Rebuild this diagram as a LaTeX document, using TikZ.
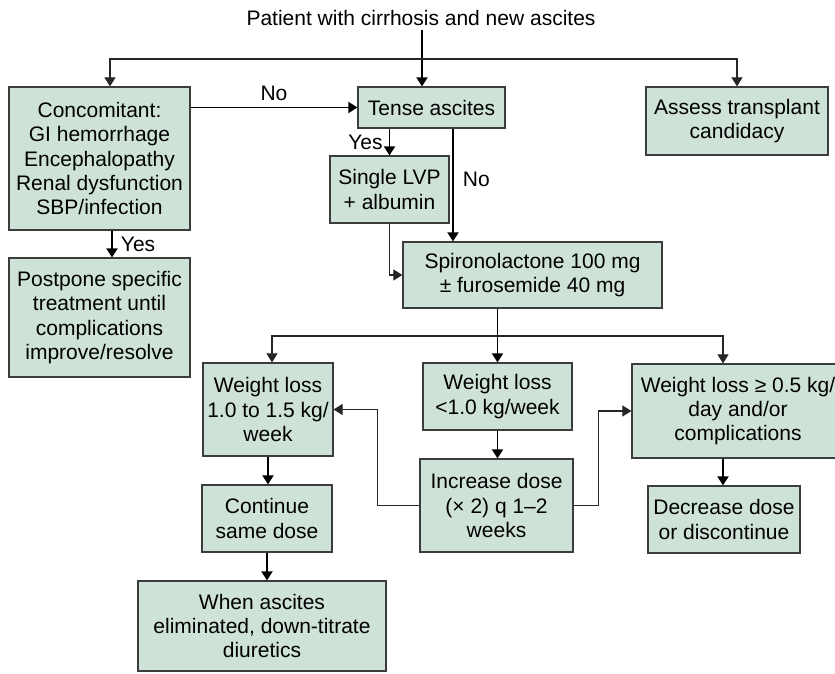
\documentclass[tikz,border=0pt]{standalone}
\usepackage{fontspec}
\setmainfont{Liberation Sans}
\usetikzlibrary{arrows.meta}
\definecolor{boxfill}{RGB}{207,226,215}
\definecolor{boxline}{RGB}{60,60,60}
\tikzset{
  box/.style={draw=boxline, line width=1.2pt, fill=boxfill, align=center,
    inner sep=0pt, font=\fontsize{21}{24.3}\selectfont},
  lbl/.style={inner sep=0pt, font=\fontsize{21}{24.3}\selectfont},
  arr/.style={line width=1.9pt, -{Triangle[length=9pt,width=11pt]}},
  tarr/.style={line width=1.1pt, draw=black!85, -{Triangle[length=9pt,width=11pt]}}
}
\begin{document}
\begin{tikzpicture}[x=1pt,y=-1pt]
\clip (0,0) rectangle (835,673);
\fill[white] (0,0) rectangle (835,673);

% title
\node[lbl] (title) at (421,18) {Patient with cirrhosis and new ascites};

% first row
\node[box, minimum width=181, minimum height=143] (conc) at (99.5,158.5)
  {Concomitant:\\GI hemorrhage\\Encephalopathy\\Renal dysfunction\\SBP/infection};
\node[box, minimum width=147, minimum height=41] (tense) at (431.5,107.5) {Tense ascites};
\node[box, minimum width=182, minimum height=68] (assess) at (737,121)
  {Assess transplant\\candidacy};

\node[box, minimum width=119, minimum height=67] (lvp) at (389.5,189.5)
  {Single LVP\\+ albumin};
\node[box, minimum width=259, minimum height=66] (spiro) at (532.5,275)
  {Spironolactone 100 mg\\± furosemide 40 mg};
\node[box, minimum width=181, minimum height=119] (postp) at (99.5,317.5)
  {Postpone specific\\treatment until\\complications\\improve/resolve};

% response row
\node[box, minimum width=130, minimum height=93] (wl1) at (268,409.5)
  {Weight loss\\1.0 to 1.5 kg/\\week};
\node[box, minimum width=149, minimum height=67] (wl2) at (497.5,396.5)
  {Weight loss\\<1.0 kg/week};
\node[box, minimum width=212, minimum height=94] (wl3) at (738,411)
  {Weight loss ≥ 0.5 kg/\\day and/or\\complications};

\node[box, minimum width=153, minimum height=93] (inc) at (496.5,505.5)
  {Increase dose\\(× 2) q 1–2\\weeks};
\node[box, minimum width=130, minimum height=67] (cont) at (267,518.5)
  {Continue\\same dose};
\node[box, minimum width=152, minimum height=67] (decr) at (724,519.5)
  {Decrease dose\\or discontinue};
\node[box, minimum width=248, minimum height=90] (when) at (262,626)
  {When ascites\\eliminated, down-titrate\\diuretics};

% distribution from the title
\coordinate (hub) at (422,59);
\draw[arr] ([yshift=-4pt]title.south -| hub) -- (hub |- tense.north);
\draw[tarr] (hub) -| ([xshift=10.5pt]conc.north);
\draw[tarr] (hub) -| (assess.north);

% concomitant branch
\draw[arr] (conc.east |- tense.west) -- (tense.west)
  node[lbl, midway, above=6pt] (no1) {No};
\draw[arr] ([xshift=12.5pt]conc.south) -- ([xshift=12.5pt]conc.south |- postp.north)
  node[lbl, midway, right=8pt] (yes1) {Yes};

% tense ascites branch
\draw[arr] (tense.south -| lvp.north) -- (lvp.north)
  node[lbl, midway, left=6pt] (yes2) {Yes};
\draw[arr] ([xshift=21.5pt]tense.south) -- ([xshift=21.5pt]tense.south |- spiro.north)
  node[lbl, pos=0.45, right=9pt] (no2) {No};
\draw[tarr] (lvp.south) |- (spiro.west);

% diuretic response
\coordinate (hub2) at (498,336);
\draw[arr] (spiro.south -| wl2.north) -- (wl2.north);
\draw[tarr] (hub2) -| ([xshift=4pt]wl1.north);
\draw[tarr] (hub2) -| ([xshift=-15pt]wl3.north);

\draw[arr] (wl2.south) -- (wl2.south |- inc.north);
\draw[tarr] (inc.west) -- ++(-42,0) |- (wl1.east);
\draw[tarr] (inc.east) -- ++(25,0) |- (wl3.west);

\draw[arr] (wl1.south) -- (wl1.south |- cont.north);
\draw[arr] (cont.south) -- (cont.south |- when.north);
\draw[arr] ([xshift=-15pt]wl3.south) -- ([xshift=-15pt]wl3.south |- decr.north);
\end{tikzpicture}
\end{document}
